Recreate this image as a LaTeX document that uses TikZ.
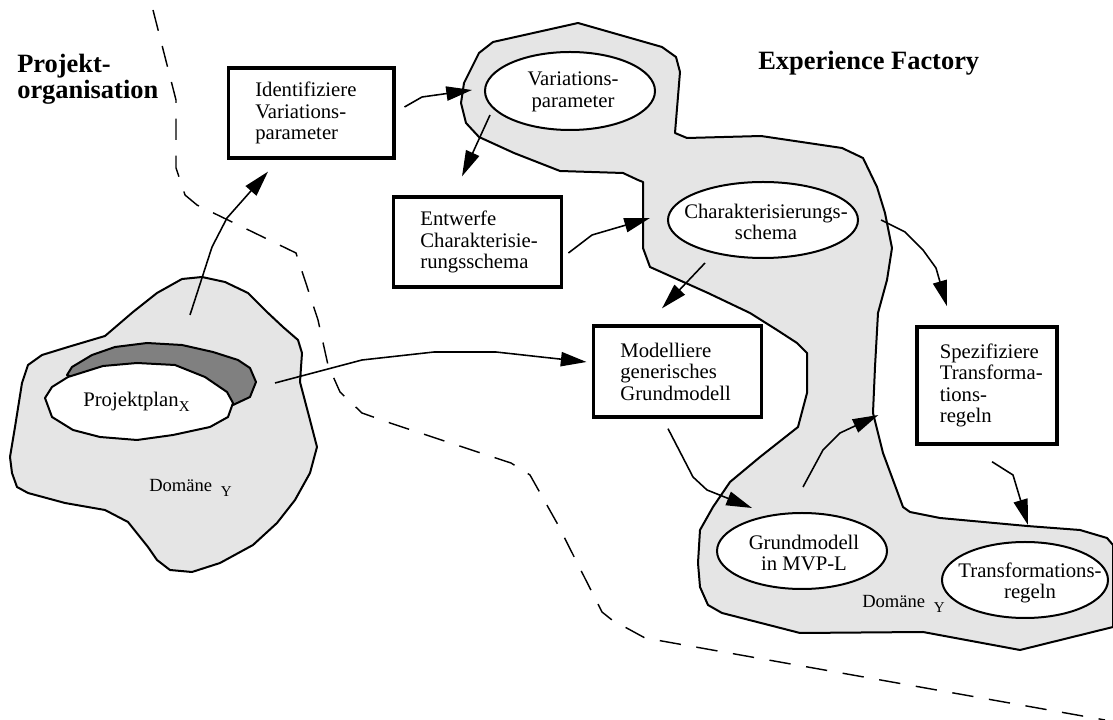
\documentclass[tikz,border=0pt]{standalone}
\usepackage{fontspec}
\setmainfont{Liberation Serif}
\usepackage{tikz}
\usetikzlibrary{positioning,shapes.geometric,arrows.meta}
\definecolor{RegionGray}{gray}{0.9}
\definecolor{PlanGray}{gray}{0.5}
\newcommand{\bodyfont}{\fontsize{14.5pt}{15pt}\selectfont}
\newcommand{\domfont}{\fontsize{13pt}{14pt}\selectfont}
\newcommand{\headfont}{\fontsize{18.5pt}{18.5pt}\selectfont\bfseries}
\newcommand{\lowsub}[1]{\raisebox{-3.2pt}{\fontsize{10.5pt}{10.5pt}\selectfont #1}}
\hyphenpenalty=10000
\exhyphenpenalty=10000
\hfuzz=30pt
\tikzset{
    actbox/.style={rectangle, draw=black, fill=white, line width=2.3pt, align=left, font=\bodyfont, inner xsep=19pt},
    objell/.style={ellipse, draw=black, fill=white, line width=1.4pt, inner sep=0pt},
    objtext/.style={align=center, font=\bodyfont, inner sep=0pt},
    headline/.style={align=left, font=\headfont, inner sep=0pt},
    region/.style={draw=black, fill=RegionGray, line width=1.4pt, line join=round},
    flow/.style={draw=black, line width=1.1pt, line join=round, -{Triangle[length=18pt,width=10pt]}},
    orgline/.style={draw=black, line width=1pt, dash pattern=on 15pt off 11pt}
}

\begin{document}
\begin{tikzpicture}[x=0.7pt, y=-0.7pt]
    \useasboundingbox (0,0) rectangle (1113,720);

    % Domaene der Projektorganisation
    \draw[region] (157,293) -- (182,279) -- (202,277) -- (225,282) -- (248,293) -- (267,312)
        -- (283,327) -- (298,340) -- (302,353) -- (300,382) -- (310,420) -- (317,447)
        -- (310,473) -- (295,500) -- (277,523) -- (253,545) -- (220,563) -- (192,572)
        -- (170,570) -- (157,560) -- (148,547) -- (128,522) -- (105,510) -- (65,503)
        -- (28,493) -- (17,487) -- (12,473) -- (10,457) -- (15,427) -- (22,383)
        -- (28,365) -- (42,355) -- (68,347) -- (105,336) -- (133,312) -- cycle;
    \draw[region, fill=PlanGray] (67,375) -- (72,367) -- (92,355) -- (115,347) -- (147,343)
        -- (182,345) -- (213,352) -- (238,360) -- (250,368) -- (256,382) -- (250,397)
        -- (233,405) -- (225,398) -- (200,381) -- (140,368) -- (75,378) -- cycle;
    \draw[region, fill=white] (45,398) -- (52,387) -- (68,377) -- (103,366) -- (137,363)
        -- (175,365) -- (205,377) -- (227,392) -- (233,403) -- (228,417) -- (210,427)
        -- (173,435) -- (137,440) -- (100,437) -- (73,430) -- (52,417) -- cycle;

    % Domaene der Experience Factory
    \draw[region] (493,42) -- (578,23) -- (662,47) -- (676,57) -- (680,72) -- (675,133)
        -- (687,138) -- (761,136) -- (842,148) -- (863,158) -- (877,187) -- (885,213)
        -- (892,248) -- (887,280) -- (878,313) -- (875,367) -- (873,413) -- (883,453)
        -- (903,507) -- (910,512) -- (940,518) -- (1027,526) -- (1080,530) -- (1107,538)
        -- (1113,545) -- (1113,627) -- (1020,650) -- (923,632) -- (800,633) -- (722,613)
        -- (708,605) -- (700,587) -- (698,563) -- (700,530) -- (713,507) -- (730,482)
        -- (760,457) -- (798,427) -- (807,393) -- (807,353) -- (797,343) -- (777,330)
        -- (750,313) -- (708,293) -- (650,267) -- (643,248) -- (643,182) -- (638,180)
        -- (623,173) -- (560,171) -- (514,153) -- (479,137) -- (466,123) -- (461,103)
        -- (464,83) -- (479,53) -- cycle;

    % Grenze
    \draw[orgline] (153,10) -- (176,100) -- (176,168) -- (185,195) -- (197,205) -- (296,253)
        -- (318,320) -- (328,365) -- (340,392) -- (362,413) -- (393,424) -- (511,463)
        -- (530,475) -- (557,523) -- (602,612) -- (612,620) -- (645,638) -- (1105,720);

    % Ueberschriften
    \node[headline, anchor=west] (projorg) at (17,79) {Projekt-\\organisation};
    \node[headline, anchor=base west] (expfac) at (758,70) {Experience Factory};

    % Objekte
    \node[objtext, anchor=base west] (plan) at (83,407) {Projektplan\lowsub{X}};
    \node[objtext, font=\domfont, anchor=base west] (domleft) at (149,492) {Domäne\hspace{6pt}\lowsub{Y}};
    \node[objtext, font=\domfont, anchor=base west] (domright) at (862,608) {Domäne\hspace{6pt}\lowsub{Y}};

    \node[objell, minimum width=119pt, minimum height=54.6pt] (varpar) at (570,91) {};
    \node[objtext] (vartext) at (573,92) {Variations-\\parameter};
    \node[objell, minimum width=133pt, minimum height=53.2pt] (charsch) at (763,220) {};
    \node[objtext] (chartext) at (766,222) {Charakterisierungs-\\schema};
    \node[objell, minimum width=119pt, minimum height=53.2pt] (grund) at (802,551) {};
    \node[objtext] (grundtext) at (804,553) {Grundmodell\\in MVP-L};
    \node[objell, minimum width=116.2pt, minimum height=53.2pt] (trans) at (1025,580) {};
    \node[objtext] (transtext) at (1030,583) {Transformations-\\regeln};

    % Aktivitaeten
    \node[actbox, text width=78pt, minimum height=63pt] (ident) at (311,113) {Identifiziere\\Variations-\\parameter};
    \node[actbox, text width=80pt, minimum height=63pt] (entw) at (477.5,242) {Entwerfe\\Charakterisie-\\rungsschema};
    \node[actbox, text width=80pt, minimum height=63.7pt] (modell) at (677.5,371.5) {Modelliere\\generisches\\Grundmodell};
    \node[actbox, inner xsep=16pt, text width=66pt, minimum height=82pt] (spez) at (987,385.5) {Spezifiziere\\Transforma-\\tions-\\regeln};

    % Datenfluss
    \coordinate (planout) at (190,315);
    \coordinate (planhook) at (275,383);
    \draw[flow] (planout) -- (212,247) -- (227,218) -- ([shift={(-43,12)}]ident.south);
    \draw[flow] ([shift={(9,-6)}]ident.east) -- (422,97) -- ([shift={(-12,-1)}]varpar.west);
    \draw[flow] ([shift={(-80,24)}]varpar.center) -- ([shift={(-15.5,-19)}]entw.north);
    \draw[flow] ([shift={(5,11)}]entw.east) -- (592,235) -- ([shift={(-113,-2)}]charsch.center);
    \draw[flow] ([shift={(-58,43)}]charsch.center) -- ([shift={(-15.5,-16)}]modell.north);
    \draw[flow] ([shift={(118,0)}]charsch.center) -- (905,232) -- (923,250) -- (936,268) -- ([shift={(-40,-19)}]spez.north);
    \draw[flow] (planhook) -- (362,360) -- (434,352) -- (496,352) -- ([shift={(-5,-9.5)}]modell.west);
    \draw[flow] ([shift={(-9.5,10)}]modell.south) -- (693,477) -- (707,490) -- ([shift={(-50,-43)}]grund.center);
    \draw[flow] ([shift={(1,-64)}]grund.center) -- (823,450) -- (840,433) -- ([shift={(-37,29.5)}]spez.west);
    \draw[flow] ([shift={(5,16)}]spez.south) -- (1013,475) -- ([shift={(3,-55)}]trans.center);
\end{tikzpicture}
\end{document}
